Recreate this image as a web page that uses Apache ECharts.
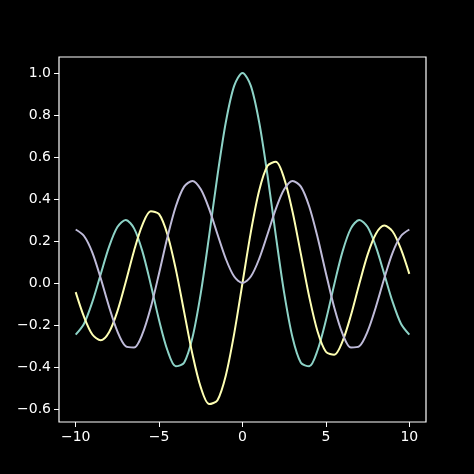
<!DOCTYPE html>
<html><head><meta charset="utf-8">
<script src="https://cdn.jsdelivr.net/npm/echarts@6/dist/echarts.min.js"></script>
<style>html,body{margin:0;background:#000}#main{width:474px;height:474px}</style>
</head><body><div id="main"></div>
<script>
const xHalf = [0,0.5,1,1.5,2,2.5,3,3.5,4,4.5,5,5.5,6,6.5,7,7.5,8,8.5,9,9.5,10];
const tealHalf = [1,0.9385,0.7652,0.5118,0.2239,-0.0484,-0.2601,-0.3801,-0.3971,-0.3205,-0.1776,-0.0068,0.1506,0.2601,0.3001,0.2663,0.1717,0.0419,-0.0903,-0.1939,-0.2459];
const yellowHalf = [0,0.2423,0.4401,0.5579,0.5767,0.4971,0.3391,0.1374,-0.0660,-0.2311,-0.3276,-0.3414,-0.2767,-0.1538,-0.0047,0.1352,0.2346,0.2731,0.2453,0.1613,0.0435];
const purpleHalf = [0,0.0306,0.1149,0.2321,0.3528,0.4461,0.4861,0.4586,0.3641,0.2178,0.0466,-0.1173,-0.2429,-0.3074,-0.3014,-0.2303,-0.1130,0.0223,0.1448,0.2235,0.2546];
const xTicks = [-10,-5,0,5,10];
const yTicks = [-0.6,-0.4,-0.2,0,0.2,0.4,0.6,0.8,1.0];

// mirror: teal and purple symmetric, yellow antisymmetric
function full(half, sign) {
  const pts = [];
  for (let i = half.length - 1; i > 0; i--) pts.push([-xHalf[i], sign * half[i]]);
  for (let i = 0; i < half.length; i++) pts.push([xHalf[i], half[i]]);
  return pts;
}

const txt = {color:'#fff', fontFamily:'DejaVu Sans', fontSize:14};
const plot = echarts.init(document.getElementById('main'));
plot.setOption({
  backgroundColor:'#000',
  animation:false,
  grid:{left:59, right:48, top:57, bottom:52, show:true, borderColor:'#fff', borderWidth:1.2, backgroundColor:'transparent'},
  xAxis:{type:'value', min:-11, max:11,
    axisLine:{show:false, onZero:false}, splitLine:{show:false},
    axisTick:{show:true, customValues:xTicks, length:5, lineStyle:{color:'#fff'}},
    axisLabel:Object.assign({customValues:xTicks, margin:8, formatter:v=>v<0?'\u2212'+(-v):''+v}, txt)},
  yAxis:{type:'value', min:-0.662, max:1.076,
    axisLine:{show:false, onZero:false}, splitLine:{show:false},
    axisTick:{show:true, customValues:yTicks, length:5, lineStyle:{color:'#fff'}},
    axisLabel:Object.assign({customValues:yTicks, margin:8, formatter:v=>(v<0?'\u2212':'')+Math.abs(v).toFixed(1)}, txt)},
  series:[
    {type:'line', data:full(tealHalf,1), smooth:0.3, showSymbol:false, lineStyle:{color:'#8dd3c7', width:2}},
    {type:'line', data:full(yellowHalf,-1), smooth:0.3, showSymbol:false, lineStyle:{color:'#feffb3', width:2}},
    {type:'line', data:full(purpleHalf,1), smooth:0.3, showSymbol:false, lineStyle:{color:'#bfbbd9', width:2}}
  ]
});
</script></body></html>
